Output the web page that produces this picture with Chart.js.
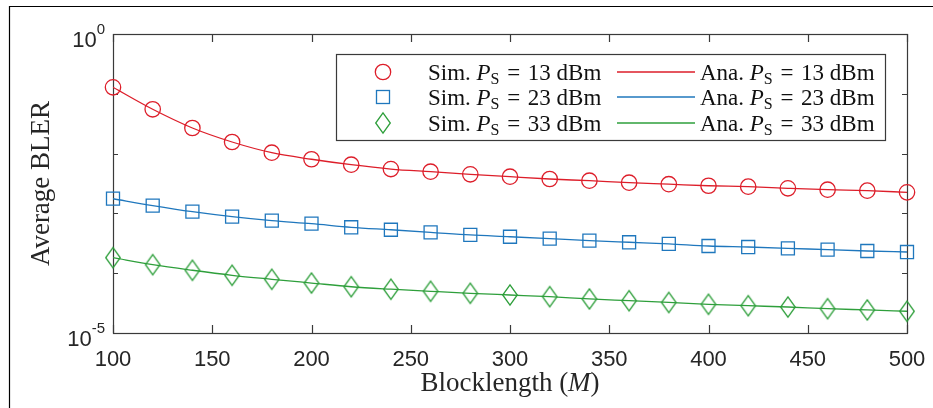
<!DOCTYPE html>
<html>
<head>
<meta charset="utf-8">
<script src="https://cdn.jsdelivr.net/npm/chart.js@4.4.1/dist/chart.umd.min.js"></script>
<style>
  html, body { margin: 0; padding: 0; background: #fff; }
  #wrap { width: 933px; height: 408px; }
</style>
</head>
<body>
<div id="wrap"><canvas id="bler"></canvas></div>
<script>
// Blocklength M and average BLER for each transmit power P_S
const blocklengths = [100, 120, 140, 160, 180, 200, 220, 240, 260, 280, 300,
                      320, 340, 360, 380, 400, 420, 440, 460, 480, 500];
const blerPs13 = [0.1285, 0.0551, 0.0268, 0.01563, 0.01035, 0.00804, 0.00652,
                  0.00552, 0.00498, 0.00451, 0.00411, 0.00376, 0.00352, 0.00326,
                  0.00308, 0.00290, 0.00280, 0.00263, 0.00249, 0.00240, 0.00225];
const blerPs23 = [0.00176, 0.00135, 0.001067, 8.81e-4, 7.55e-4, 6.73e-4, 5.86e-4,
                  5.33e-4, 4.83e-4, 4.36e-4, 4.07e-4, 3.78e-4, 3.50e-4, 3.29e-4,
                  3.10e-4, 2.85e-4, 2.74e-4, 2.61e-4, 2.47e-4, 2.35e-4, 2.26e-4];
const blerPs33 = [1.82e-4, 1.39e-4, 1.12e-4, 9.23e-5, 7.91e-5, 6.85e-5, 5.94e-5,
                  5.40e-5, 4.98e-5, 4.61e-5, 4.32e-5, 4.05e-5, 3.71e-5, 3.47e-5,
                  3.24e-5, 3.02e-5, 2.86e-5, 2.72e-5, 2.55e-5, 2.43e-5, 2.31e-5];
const powersDbm = ['13', '23', '33'];

const xTicks = [100, 150, 200, 250, 300, 350, 400, 450, 500];
const yTicks = [1, 1e-1, 1e-2, 1e-3, 1e-4, 1e-5];
const yLabelValues = [1, 1e-5];
const yLabelExponents = ['0', '-5'];

const RED = '#dd1e2a';
const BLUE = '#1f77bd';
const GREEN = '#2e9f3b';
const AXIS = '#3a3a3a';
const TEXT = '#262626';

// MATLAB-style diamond is taller than it is wide
function diamondMarker(color) {
  const c = document.createElement('canvas');
  c.width = 18; c.height = 24;
  const g = c.getContext('2d');
  g.strokeStyle = color;
  g.lineWidth = 1.3;
  g.beginPath();
  g.moveTo(9, 1.8); g.lineTo(16.3, 12); g.lineTo(9, 22.2); g.lineTo(1.7, 12);
  g.closePath();
  g.stroke();
  return c;
}
const greenDiamond = diamondMarker(GREEN);

const pts = (vals) => blocklengths.map((m, i) => ({ x: m, y: vals[i] }));

function simSet(vals, color, style, radius) {
  return {
    data: pts(vals), showLine: false, clip: false,
    pointStyle: style, pointRadius: radius, pointHoverRadius: radius,
    pointBorderWidth: 1.3, borderColor: color, pointBorderColor: color,
    pointBackgroundColor: 'rgba(0,0,0,0)', backgroundColor: 'rgba(0,0,0,0)'
  };
}
function anaSet(vals, color) {
  return {
    data: pts(vals), borderColor: color, borderWidth: 1.3, pointRadius: 0,
    cubicInterpolationMode: 'monotone', fill: false
  };
}

// draws a row of differently styled text runs; returns the width
function drawRuns(ctx, runs, x, y, align) {
  let w = 0;
  runs.forEach(r => { ctx.font = r.font; w += ctx.measureText(r.text).width; });
  let cx = align === 'center' ? x - w / 2 : (align === 'right' ? x - w : x);
  ctx.textAlign = 'left';
  runs.forEach(r => {
    ctx.font = r.font;
    ctx.fillText(r.text, cx, y + (r.dy || 0));
    cx += ctx.measureText(r.text).width;
  });
  return w;
}

const SERIF = '"Liberation Serif", "Times New Roman", serif';
const SANS = '"Liberation Sans", Arial, sans-serif';

const axesPlugin = {
  id: 'boxAxes',
  beforeDatasetsDraw(chart) {
    const { ctx, chartArea: a, scales: { x, y } } = chart;
    ctx.save();
    // figure frame
    ctx.strokeStyle = '#000';
    ctx.lineWidth = 1.2;
    ctx.beginPath();
    ctx.moveTo(9.5, 408); ctx.lineTo(9.5, 6.5); ctx.lineTo(933, 6.5);
    ctx.stroke();

    // axes box with inward ticks
    ctx.strokeStyle = AXIS;
    ctx.lineWidth = 1.2;
    ctx.strokeRect(Math.round(a.left) + 0.5, Math.round(a.top) + 0.5,
                   Math.round(a.right - a.left), Math.round(a.bottom - a.top));
    ctx.beginPath();
    xTicks.forEach(v => {
      const px = Math.round(x.getPixelForValue(v)) + 0.5;
      ctx.moveTo(px, a.bottom); ctx.lineTo(px, a.bottom - 8);
      ctx.moveTo(px, a.top); ctx.lineTo(px, a.top + 8);
    });
    yTicks.forEach(v => {
      const py = Math.round(y.getPixelForValue(v)) + 0.5;
      ctx.moveTo(a.left, py); ctx.lineTo(a.left + 5, py);
      ctx.moveTo(a.right, py); ctx.lineTo(a.right - 5, py);
    });
    ctx.stroke();

    // tick labels
    ctx.fillStyle = TEXT;
    ctx.textBaseline = 'alphabetic';
    ctx.font = '22px ' + SANS;
    ctx.textAlign = 'center';
    xTicks.forEach(v => ctx.fillText(String(v), x.getPixelForValue(v), a.bottom + 33));
    yLabelValues.forEach((v, i) => {
      const py = y.getPixelForValue(v);
      drawRuns(ctx, [
        { text: '10', font: '22px ' + SANS, dy: 12.5 },
        { text: yLabelExponents[i], font: '15px ' + SANS, dy: 0 }
      ], a.left - 8, py, 'right');
    });

    // axis titles
    drawRuns(ctx, [
      { text: 'Blocklength (', font: '27px ' + SERIF },
      { text: 'M', font: 'italic 27px ' + SERIF },
      { text: ')', font: '27px ' + SERIF }
    ], (a.left + a.right) / 2, 391, 'center');

    ctx.translate(49, (a.top + a.bottom) / 2);
    ctx.rotate(-Math.PI / 2);
    ctx.font = '27px ' + SERIF;
    ctx.textAlign = 'center';
    ctx.fillText('Average BLER', 0, 0);
    ctx.restore();
  },
  afterDraw(chart) {
    const { ctx } = chart;
    ctx.save();
    const L = 336.5, T = 54.5, R = 885.5, B = 140.5;
    ctx.fillStyle = '#fff';
    ctx.fillRect(L, T, R - L, B - T);
    ctx.strokeStyle = AXIS;
    ctx.lineWidth = 1.2;
    ctx.strokeRect(L, T, R - L, B - T);

    const rows = [72, 97, 123];
    const colors = [RED, BLUE, GREEN];
    rows.forEach((ry, i) => {
      const c = colors[i];
      ctx.strokeStyle = c;
      ctx.lineWidth = 1.3;
      // marker
      if (i === 0) {
        ctx.beginPath(); ctx.arc(383, ry, 7.7, 0, Math.PI * 2); ctx.stroke();
      } else if (i === 1) {
        ctx.strokeRect(376.5, ry - 6.5, 13, 13);
      } else {
        ctx.drawImage(greenDiamond, 383 - 9, ry - 12);
      }
      // line sample
      ctx.beginPath(); ctx.moveTo(617, ry); ctx.lineTo(695, ry); ctx.stroke();

      ctx.fillStyle = '#111';
      ctx.textBaseline = 'alphabetic';
      const by = ry + 7.5;
      ['Sim. ', 'Ana. '].forEach((lead, k) => {
        drawRuns(ctx, [
          { text: lead, font: '23px ' + SERIF },
          { text: 'P', font: 'italic 23px ' + SERIF },
          { text: 'S', font: '16px ' + SERIF, dy: 4 },
          { text: ' \u200a=\u200a ' + powersDbm[i] + ' dBm', font: '23px ' + SERIF }
        ], k === 0 ? 428 : 700, by, 'left');
      });
    });
    ctx.restore();
  }
};

new Chart(document.getElementById('bler'), {
  type: 'line',
  data: {
    datasets: [
      simSet(blerPs13, RED, 'circle', 7.7),
      simSet(blerPs23, BLUE, 'rect', 9.2),
      simSet(blerPs33, GREEN, greenDiamond, 10),
      anaSet(blerPs13, RED),
      anaSet(blerPs23, BLUE),
      anaSet(blerPs33, GREEN)
    ]
  },
  options: {
    responsive: true,
    maintainAspectRatio: false,
    animation: false,
    events: [],
    layout: { padding: { left: 0, top: 34, right: 26, bottom: 0 } },
    plugins: { legend: { display: false }, tooltip: { enabled: false } },
    scales: {
      x: {
        type: 'linear', min: 100, max: 500,
        grid: { display: false }, border: { display: false },
        ticks: { display: false, stepSize: 50 },
        afterFit(s) { s.height = 75; }
      },
      y: {
        type: 'logarithmic', min: 1e-5, max: 1,
        grid: { display: false }, border: { display: false },
        ticks: { display: false },
        afterBuildTicks(s) { s.ticks = yTicks.map(v => ({ value: v })); },
        afterFit(s) { s.width = 113; }
      }
    }
  },
  plugins: [axesPlugin]
});
</script>
</body>
</html>
